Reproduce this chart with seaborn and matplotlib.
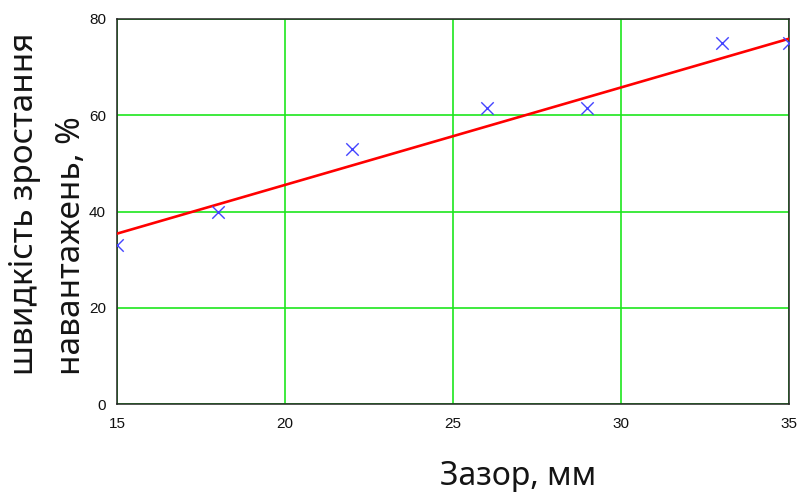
import matplotlib
matplotlib.use("Agg")
import matplotlib.pyplot as plt
import seaborn as sns
import pandas as pd

# Data
gap_mm = [15, 18, 22, 26, 29, 33, 35]
growth_pct = [33, 40, 53, 61.6, 61.6, 75, 75]
fit_x = [15, 35]
fit_y = [35.4, 75.9]
x_ticks = [15, 20, 25, 30, 35]
y_ticks = [0, 20, 40, 60, 80]
x_label = "Зазор, мм"
y_label_lines = ["швидкість зростання", "навантажень, %"]

sns.set_style("white")
plt.rcParams['font.family'] = ['Noto Sans', 'DejaVu Sans']

W, H = 804, 492
fig = plt.figure(figsize=(W / 100, H / 100), dpi=100)
ax = fig.add_axes([117/W, 1 - 404/H, (789-117)/W, (404-19)/H])

pts = pd.DataFrame({"x": gap_mm, "y": growth_pct})
fit = pd.DataFrame({"x": fit_x, "y": fit_y})

sns.lineplot(data=fit, x="x", y="y", ax=ax, color="#ff0000", linewidth=1.9, zorder=3)
sns.scatterplot(data=pts, x="x", y="y", ax=ax, marker="x", s=80, color="#4444ff",
                linewidth=1.0, zorder=4)

ax.set_xlim(15, 35)
ax.set_ylim(0, 80)
ax.set_xticks(x_ticks)
ax.set_yticks(y_ticks)
ax.set_xticklabels([str(v) for v in x_ticks], fontfamily='Liberation Sans', fontsize=11)
ax.set_yticklabels([str(v) for v in y_ticks], fontfamily='Liberation Sans', fontsize=11)
ax.tick_params(axis='x', length=0, pad=9, colors='#111111')
ax.tick_params(axis='y', length=0, pad=8, colors='#111111')
ax.grid(True, color="#1ee61e", linewidth=1.2)
ax.set_axisbelow(True)
for s in ax.spines.values():
    s.set_color("#222222")
    s.set_linewidth(1.1)
    s.set_visible(True)
ax.set_xlabel("")
ax.set_ylabel("")

fig.text(440/W, 1 - 485/H, x_label, ha='left', va='baseline', fontsize=23,
         color='#141414')
fig.text(33/W, 1 - 375/H, y_label_lines[0], rotation=90, rotation_mode='anchor',
         ha='left', va='baseline', fontsize=24, color='#141414')
fig.text(80/W, 1 - 375/H, y_label_lines[1], rotation=90, rotation_mode='anchor',
         ha='left', va='baseline', fontsize=24, color='#141414')

fig.savefig("out.png", dpi=100)
